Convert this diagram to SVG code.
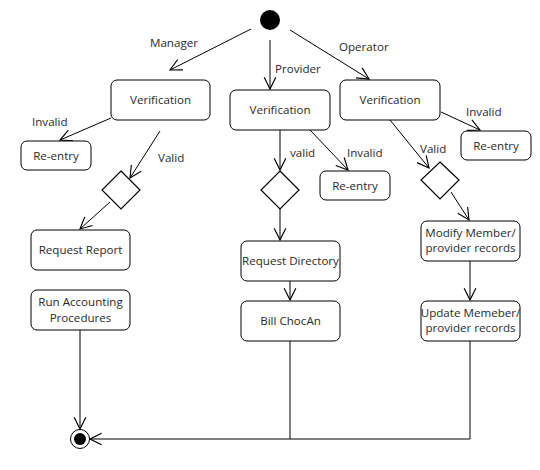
<svg xmlns="http://www.w3.org/2000/svg" width="540" height="470" viewBox="0 0 540 470">
<style>
.box{fill:#fff;stroke:#000;stroke-width:1}
.dia{fill:#fff;stroke:#000;stroke-width:1.2}
.t{font-family:"Open Sans","Noto Sans",sans-serif;font-size:11.6px;fill:#2a2a2a;text-anchor:middle}
.l{font-family:"Open Sans","Noto Sans",sans-serif;font-size:11.6px;fill:#2a2a2a}
.c{fill:none;stroke:#000;stroke-width:1}
</style>
<defs>
<marker id="arr" markerUnits="userSpaceOnUse" markerWidth="14" markerHeight="14" refX="11" refY="6" orient="auto" viewBox="0 0 12 12">
<path d="M1,1 L11,6 L1,11" fill="none" stroke="#000" stroke-width="1"/>
</marker>
</defs>
<rect width="540" height="470" fill="#fff"/>
<g id="connectors">
<line class="c" x1="251" y1="29" x2="170" y2="70" marker-end="url(#arr)"/>
<line class="c" x1="270" y1="40" x2="270" y2="89" marker-end="url(#arr)"/>
<line class="c" x1="290" y1="30" x2="369" y2="79" marker-end="url(#arr)"/>
<line class="c" x1="111" y1="118" x2="60" y2="140" marker-end="url(#arr)"/>
<line class="c" x1="160" y1="131" x2="130" y2="178" marker-end="url(#arr)"/>
<line class="c" x1="110" y1="202" x2="80" y2="229" marker-end="url(#arr)"/>
<line class="c" x1="80" y1="330" x2="80" y2="429" marker-end="url(#arr)"/>
<line class="c" x1="280" y1="130" x2="280" y2="170" marker-end="url(#arr)"/>
<line class="c" x1="310" y1="130" x2="348" y2="170" marker-end="url(#arr)"/>
<line class="c" x1="280" y1="209" x2="280" y2="240" marker-end="url(#arr)"/>
<line class="c" x1="290" y1="281" x2="290" y2="300" marker-end="url(#arr)"/>
<polyline class="c" points="290,341 290,439 90,439" marker-end="url(#arr)"/>
<line class="c" x1="441" y1="112" x2="480" y2="130" marker-end="url(#arr)"/>
<line class="c" x1="390" y1="120" x2="429" y2="168" marker-end="url(#arr)"/>
<line class="c" x1="451" y1="192" x2="469" y2="220" marker-end="url(#arr)"/>
<line class="c" x1="470" y1="261" x2="470" y2="300" marker-end="url(#arr)"/>
<polyline class="c" points="470,341 470,439 290,439"/>
</g>
<g id="labels">
<text class="l" x="150" y="47">Manager</text>
<text class="l" x="275" y="73">Provider</text>
<text class="l" x="339" y="51">Operator</text>
<text class="l" x="32" y="126">Invalid</text>
<text class="l" x="158" y="162">Valid</text>
<text class="l" x="290" y="157">valid</text>
<text class="l" x="347" y="157">Invalid</text>
<text class="l" x="466" y="116">Invalid</text>
<text class="l" x="420" y="153">Valid</text>
</g>
<g id="start"><circle cx="270" cy="20" r="10" fill="#000"/></g>
<g id="end"><circle cx="80" cy="439" r="9.5" fill="#fff" stroke="#000"/><circle cx="80" cy="439" r="6" fill="#000"/></g>
<g id="verif-manager"><rect class="box" x="111" y="80" width="99" height="40" rx="6"/><text class="t" x="160.5" y="104">Verification</text></g>
<g id="verif-provider"><rect class="box" x="230" y="90" width="100" height="40" rx="6"/><text class="t" x="280" y="114">Verification</text></g>
<g id="verif-operator"><rect class="box" x="340" y="80" width="100" height="40" rx="6"/><text class="t" x="390" y="104">Verification</text></g>
<g id="reentry-manager"><rect class="box" x="21" y="141" width="70" height="29" rx="6"/><text class="t" x="56" y="160">Re-entry</text></g>
<g id="reentry-provider"><rect class="box" x="320" y="171" width="70" height="29" rx="6"/><text class="t" x="355" y="190">Re-entry</text></g>
<g id="reentry-operator"><rect class="box" x="461" y="131" width="70" height="29" rx="6"/><text class="t" x="496" y="150">Re-entry</text></g>
<g id="dec-manager"><polygon class="dia" points="121,171 140,190 121,209 102,190"/></g>
<g id="dec-provider"><polygon class="dia" points="280,171 299,190 280,209 261,190"/></g>
<g id="dec-operator"><polygon class="dia" points="440,162 459,180 440,199 421,180"/></g>
<g id="request-report"><rect class="box" x="31" y="230" width="99" height="40" rx="6"/><text class="t" x="80.5" y="254">Request Report</text></g>
<g id="run-accounting"><rect class="box" x="31" y="290" width="99" height="40" rx="6"/><text class="t" x="80.5" y="306">Run Accounting</text><text class="t" x="80.5" y="322">Procedures</text></g>
<g id="request-directory"><rect class="box" x="241" y="241" width="99" height="40" rx="6"/><text class="t" x="290.5" y="265">Request Directory</text></g>
<g id="bill-chocan"><rect class="box" x="241" y="301" width="99" height="40" rx="6"/><text class="t" x="290.5" y="325">Bill ChocAn</text></g>
<g id="modify-member"><rect class="box" x="421" y="221" width="99" height="40" rx="6"/><text class="t" x="470.5" y="237">Modify Member/</text><text class="t" x="470.5" y="252">provider records</text></g>
<g id="update-member"><rect class="box" x="421" y="301" width="99" height="40" rx="6"/><text class="t" x="470.5" y="317">Update Memeber/</text><text class="t" x="470.5" y="332">provider records</text></g>
</svg>
